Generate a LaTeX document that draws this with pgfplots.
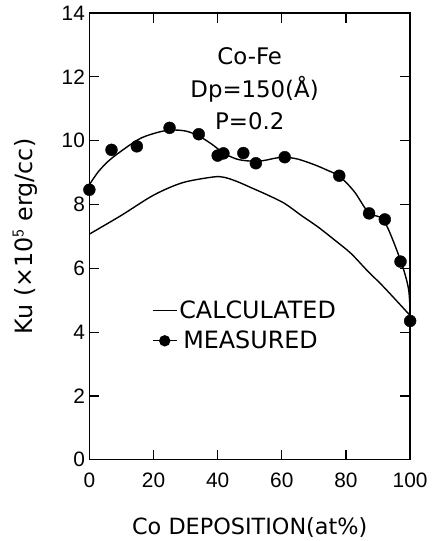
\documentclass[border=0pt]{standalone}
\usepackage{fontspec}
\setmainfont{DejaVu Sans}
\newfontfamily\tickfont{Liberation Sans}
\usepackage{pgfplots}
\pgfplotsset{compat=1.18}

\begin{document}
\begin{tikzpicture}
\begin{axis}[
  scale only axis,width=323pt,height=450pt,
  xmin=0,xmax=100,ymin=0,ymax=14,
  xtick={0,20,40,60,80,100},
  ytick={0,2,4,6,8,10,12,14},
  tick align=inside,
  major tick length=10pt,
  tick style={black,line width=1.2pt},
  axis line style={line width=1.3pt},
  /pgf/number format/assume math mode=true,
  ticklabel style={font=\tickfont\fontsize{21}{25}\selectfont},
  xticklabel style={yshift=-10pt},
  yticklabel style={xshift=-1pt},
  xlabel={Co DEPOSITION(at\%)},
  ylabel={Ku (×10$^{\mathsf{5}}$ erg/cc)},
  xlabel style={font=\fontsize{22.5}{26}\selectfont,
    at={(axis description cs:0.5,-0.152)},anchor=center},
  ylabel style={font=\fontsize{24}{28}\selectfont,
    at={(axis description cs:-0.2,0.5)},anchor=center},
  clip=false,
  legend style={draw=none,fill=none,font=\fontsize{24}{28}\selectfont,
    at={(axis cs:19.5,4.2)},anchor=west,row sep=7pt,
    inner sep=0pt},
  legend cell align=left,
  legend image code/.code={\draw[mark repeat=2,mark phase=2,#1]
    plot coordinates {(0pt,0pt)(12pt,0pt)(24pt,0pt)};},
]
% calculated curve
\addplot[black,line width=1.4pt,smooth] coordinates {
 (0,7.07) (10,7.66) (20,8.29) (29,8.68) (38.6,8.86) (42,8.85) (46,8.72)
 (51,8.5) (55.7,8.29) (60.9,8.03) (66,7.66) (71.2,7.30) (76.4,6.89)
 (81.5,6.47) (86.7,5.92) (91.9,5.4) (100,4.52)
};
\addlegendentry{CALCULATED}
% fitted curve through measured values
\addplot[black,line width=1.4pt,smooth,forget plot] coordinates {
 (0,8.62) (3,9.05) (7,9.45) (15,10.02) (20,10.22) (25,10.33) (30,10.3)
 (34,10.15) (38,9.9) (42,9.6) (46,9.42) (50,9.36) (54,9.37) (58,9.45)
 (61,9.48) (65,9.42) (70,9.25) (74,9.08) (78,8.88) (82.6,8.4)
 (87.2,7.72) (91.8,7.5) (97,6.25) (99.5,5.35) (100,4.5)
};
% measured points
\addplot[only marks,mark=*,mark size=6pt,black,forget plot] coordinates {
 (0,8.46) (6.9,9.71) (14.8,9.82) (25,10.4) (34.1,10.2) (40,9.53)
 (41.8,9.6) (48,9.61) (51.9,9.29) (60.9,9.48) (77.9,8.9) (87.2,7.72)
 (92.1,7.53) (97,6.21) (100,4.35)
};
\addlegendimage{black,line width=1.4pt,mark=*,mark size=5pt}
\addlegendentry{\,MEASURED}
\node[font=\fontsize{23}{27}\selectfont] at (axis cs:50,12.63) {Co-Fe};
\node[font=\fontsize{23}{27}\selectfont] at (axis cs:51.5,11.6) {Dp=150(Å)};
\node[font=\fontsize{23}{27}\selectfont] at (axis cs:50,10.61) {P=0.2};
\path (rel axis cs:-0.2786,-0.1733) rectangle (rel axis cs:1.0867,1.0289);
\end{axis}
\end{tikzpicture}
\end{document}
